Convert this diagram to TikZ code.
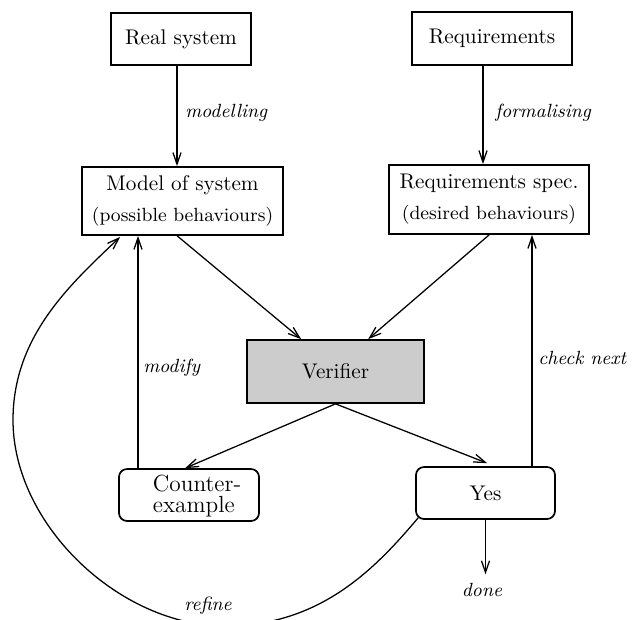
\documentclass[tikz,border=0pt]{standalone}
\usetikzlibrary{arrows.meta,calc}
\tikzset{
  box/.style={draw, line width=0.8pt, inner sep=0pt},
  rbox/.style={box, rounded corners=3.8pt},
  arr/.style={-{Straight Barb[length=5.5pt,width=3.8pt]}, line width=0.6pt},
  lab/.style={font=\small\itshape, inner sep=0pt},
}
\begin{document}
\begin{tikzpicture}[x=0.4717pt,y=-0.4717pt]
\useasboundingbox (0,0) rectangle (635,620);
% boxes
\node[box, minimum width=66.04pt, minimum height=24.53pt] (real) at (181,39) {Real system};
\node[box, minimum width=75.47pt, minimum height=25pt] (req) at (492,38.5) {Requirements};
\node[box, minimum width=94.81pt, minimum height=32.08pt, align=center] (model) at (182.5,201) {Model of system\\[2.6pt]{\small (possible behaviours)}};
\node[box, minimum width=94.34pt, minimum height=32.55pt, align=center] (spec) at (489,199.5) {Requirements spec.\\[2.6pt]{\small (desired behaviours)}};
\node[box, fill=black!20, minimum width=83.49pt, minimum height=29.72pt] (verif) at (335.5,371.5) {Verifier};
\node[rbox, minimum width=66.04pt, minimum height=24.53pt] (counter) at (189,495) {};
\node[align=left, inner sep=0pt, font=\fontsize{11}{9.5}\selectfont] (countertext) at (197,496) {Counter-\\example};
\node[rbox, minimum width=65.57pt, minimum height=24.53pt] (yes) at (485.5,493) {Yes};
% labels
\node[lab, anchor=west] (lmod) at (185,113) {modelling};
\node[lab, anchor=west] (lform) at (495,113) {formalising};
\node[lab, anchor=west] (lmodify) at (143,368) {modify};
\node[lab, anchor=west] (lcheck) at (538,358) {check next};
\node[lab] (lrefine) at (208,606) {refine};
\node[lab, inner sep=4pt] (done) at (482,590) {done};
% helper coordinates
\coordinate (c1) at (177,0);
\coordinate (c2) at (483,0);
\coordinate (c3) at (138,0);
\coordinate (c4) at (532,0);
\coordinate (rs) at ($(yes.south west)+(3,-2)$);
\coordinate (re) at ($(model.south west)+(39,1)$);
\coordinate (rbot) at (225,626);
\coordinate (rleft) at (13,420);
% connectors
\draw[arr] (real.south -| c1) -- (model.north -| c1);
\draw[arr] (req.south -| c2) -- (spec.north -| c2);
\draw[arr] ($(model.south west)+(96,0)$) -- ($(verif.north west)+(55,0)$);
\draw[arr] ($(spec.south west)+(101,0)$) -- ($(verif.north west)+(122,0)$);
\draw[arr] (verif.south) -- ($(counter.north west)+(67,0)$);
\draw[arr] (verif.south) -- ($(yes.north west)+(72,-3)$);
\draw[arr] (counter.north -| c3) -- (model.south -| c3);
\draw[arr] (yes.north -| c4) -- (spec.south -| c4);
\draw[arr] (yes.south) -- (yes.south |- done.north);
\draw[arr] (rs) .. controls (375,569) and (320,626) .. (rbot)
  .. controls (120,626) and (13,525) .. (rleft)
  .. controls (13,335) and (72,283) .. (re);
\end{tikzpicture}
\end{document}
